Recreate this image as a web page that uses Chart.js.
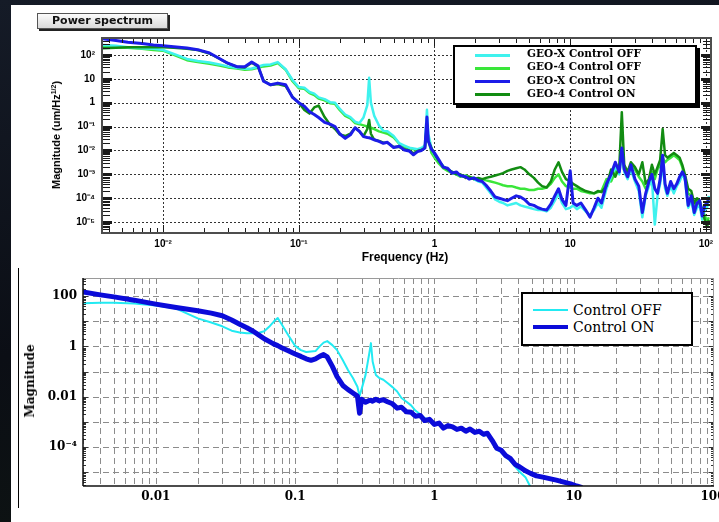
<!DOCTYPE html>
<html>
<head>
<meta charset="utf-8">
<title>Power spectrum</title>
<script src="https://cdn.jsdelivr.net/npm/chart.js@4.4.1/dist/chart.umd.min.js"></script>
<style>
  html, body { margin: 0; padding: 0; }
  body { width: 719px; height: 522px; overflow: hidden; position: relative;
         background: linear-gradient(170deg, #151b27 0%, #0b0e15 55%, #0e1511 100%); }
  #sheet { position: absolute; left: 11px; top: 5px; width: 708px; height: 517px; background: #fff; }
  #rule { position: absolute; left: 18px; top: 268px; width: 1px; height: 240px; background: #000; }
  canvas { position: absolute; left: 0; }
  .tag { position: absolute; left: 37px; top: 13px; width: 129px; height: 14px; border: 1px solid #555;
         background: linear-gradient(#fbfbfb, #d9d9d9); box-shadow: 2px 2px 0 #222;
         font: bold 11px "DejaVu Sans", sans-serif; line-height: 14px; text-align: center; color: #111; }
  .ttl { position: absolute; white-space: nowrap; color: #000; }
  .ttl sup { font-size: 7px; line-height: 0; vertical-align: 4px; }
  .rot { transform: translate(-50%, -50%) rotate(-90deg); }
  .ctr { transform: translate(-50%, -50%); }
  .legend { position: absolute; background: #fff; border: 2px solid #000; box-sizing: border-box; }
  .legend .sw { position: absolute; }
  .legend .txt { position: absolute; white-space: nowrap; color: #000; }
</style>
</head>
<body>
<div id="sheet"></div>
<div id="rule"></div>
<canvas id="topChart" width="719" height="265" style="top:0"></canvas>
<canvas id="botChart" width="719" height="257" style="top:265px"></canvas>
<div class="tag">Power spectrum</div>
<div class="ttl rot" style="left:56px; top:135px; font: bold 11px 'Liberation Sans', Arial, sans-serif;">Magnitude (um/Hz<sup>1/2</sup>)</div>
<div class="ttl ctr" style="left:405px; top:257px; font: bold 12px 'Liberation Sans', Arial, sans-serif;">Frequency (Hz)</div>
<div class="ttl rot" style="left:30px; top:381px; font: bold 12px 'DejaVu Serif', serif;">Magnitude</div>
<div id="topLegend" class="legend" style="left:453px; top:45px; width:244px; height:60px; box-shadow: 3px 3px 0 #000;"></div>
<div id="botLegend" class="legend" style="left:521px; top:292px; width:172px; height:54px;"></div>

<script>
// ── Top panel data: frequency (Hz) and magnitude (um/Hz^1/2) ──
const topFreq = [
  0.0036, 0.0045, 0.0055, 0.007, 0.0085, 0.01, 0.012, 0.015, 0.018, 0.022,
  0.026, 0.03, 0.035, 0.04, 0.045, 0.05, 0.055, 0.062, 0.07, 0.08,
  0.09, 0.1, 0.11, 0.12, 0.13, 0.14, 0.155, 0.17, 0.185, 0.2,
  0.22, 0.24, 0.26, 0.28, 0.3, 0.32, 0.33, 0.34, 0.36, 0.39,
  0.42, 0.45, 0.5, 0.55, 0.6, 0.65, 0.7, 0.75, 0.8, 0.85,
  0.88, 0.9, 0.95, 1.0, 1.08, 1.16, 1.25, 1.35, 1.45, 1.55,
  1.7, 1.8, 1.95, 2.1, 2.25, 2.4, 2.6, 2.8, 3.0, 3.2,
  3.45, 3.7, 4.0, 4.3, 4.6, 5.0, 5.4, 5.8, 6.2, 6.7,
  7.2, 7.7, 8.2, 8.7, 9.3, 10.0, 10.5, 11.2, 12, 13,
  14, 15, 16, 17, 18.5, 20, 21.5, 23, 24, 25,
  26.5, 28, 30, 32, 34, 36, 38, 40, 42, 44,
  46, 48, 50, 52, 55, 58, 61, 64, 67, 70,
  74, 78, 82, 86, 90, 94, 98, 102, 105
];
const geoXOff = [
  260, 240, 210, 190, 180, 160, 110, 68, 56, 48,
  40, 33, 29, 26, 27, 32, 38, 40, 50, 25,
  8.9, 4.5, 4.2, 2.8, 2.4, 1.66, 1.41, 1.05, 1.0, 0.56,
  0.32, 0.25, 0.16, 0.14, 0.24, 0.79, 11, 1.0, 0.28, 0.11,
  0.066, 0.063, 0.04, 0.02, 0.016, 0.013, 0.012, 0.0112, 0.0126, 0.016,
  0.5, 0.05, 0.0126, 6.3e-3, 3.5e-3, 2.2e-3, 1.6e-3, 1.26e-3, 1.0e-3, 8.9e-4,
  7.9e-4, 7.1e-4, 6.3e-4, 5.0e-4, 4.5e-4, 2.8e-4, 1.6e-4, 8.9e-5, 7.1e-5, 6.3e-5,
  5.0e-5, 5.6e-5, 6.3e-5, 5.0e-5, 4.5e-5, 4.0e-5, 3.5e-5, 3.2e-5, 3.2e-5, 2.8e-5,
  4.0e-5, 7.9e-5, 1.6e-4, 6.3e-5, 3.5e-5, 4.0e-5, 5.0e-5, 3.5e-5, 4.5e-5, 2.8e-5,
  2.0e-5, 3.2e-5, 6.3e-5, 4.0e-5, 2.5e-4, 7.9e-4, 2.0e-3, 1.0e-3, 7.9e-3, 1.26e-3,
  6.3e-4, 1.6e-3, 5.0e-4, 2.0e-4, 1.6e-5, 1.26e-4, 3.2e-4, 6.3e-4, 7.9e-6, 1.26e-4,
  4.0e-4, 3.2e-3, 2.5e-4, 1.26e-4, 3.2e-4, 1.6e-4, 3.2e-4, 5.0e-4, 1.0e-3, 6.3e-4,
  4.0e-5, 7.9e-5, 2.0e-5, 4.0e-5, 5.0e-5, 1.26e-5, 3.2e-5, 4.0e-5, 1.26e-4
];
const geo4Off = [
  230, 210, 200, 180, 160, 150, 100, 60, 50, 43,
  36, 30, 27, 24, 25, 29, 33, 36, 46, 24,
  7.9, 4.0, 3.8, 2.5, 2.1, 1.5, 1.26, 0.95, 0.89, 0.5,
  0.28, 0.22, 0.14, 0.126, 0.112, 0.1, 0.095, 0.089, 0.079, 0.063,
  0.056, 0.05, 0.035, 0.019, 0.014, 0.0126, 0.0112, 0.0105, 0.01, 0.014,
  0.1, 0.032, 7.9e-3, 5.0e-3, 2.8e-3, 1.8e-3, 1.4e-3, 1.12e-3, 1.0e-3, 7.9e-4,
  8.9e-4, 7.9e-4, 7.1e-4, 6.3e-4, 6.3e-4, 5.6e-4, 5.0e-4, 4.5e-4, 4.0e-4, 3.5e-4,
  3.2e-4, 3.2e-4, 2.8e-4, 2.5e-4, 2.5e-4, 2.2e-4, 2.2e-4, 2.5e-4, 2.5e-4, 2.8e-4,
  4.0e-4, 7.1e-4, 1.0e-3, 5.0e-4, 3.2e-4, 2.8e-4, 2.5e-4, 2.5e-4, 2.0e-4, 1.8e-4,
  1.6e-4, 1.6e-4, 1.8e-4, 2.0e-4, 6.3e-4, 5.0e-4, 1.26e-3, 2.5e-3, 4.0e-3, 1.6e-3,
  1.26e-3, 2.5e-3, 1.6e-3, 7.9e-4, 5.0e-4, 2.5e-4, 4.0e-4, 1.26e-3, 6.3e-4, 1.6e-3,
  2.5e-3, 5.0e-3, 3.2e-3, 4.0e-3, 5.0e-3, 6.3e-3, 5.0e-3, 4.0e-3, 2.0e-3, 6.3e-4,
  1.6e-4, 1.26e-4, 5.0e-5, 7.9e-5, 5.0e-5, 2.5e-5, 2.0e-5, 1.0e-5, 1.6e-5
];
const geoXOn = [
  470, 400, 340, 300, 260, 240, 220, 195, 166, 120,
  71, 45, 32, 32, 50, 35, 7.9, 5.6, 6.6, 5.6,
  1.66, 1.0, 0.71, 0.42, 0.32, 0.24, 0.15, 0.126, 0.1, 0.05,
  0.032, 0.045, 0.089, 0.063, 0.038, 0.035, 0.034, 0.032, 0.028, 0.024,
  0.02, 0.022, 0.0132, 0.015, 0.0105, 0.0095, 0.0066, 0.0089, 0.01, 0.0126,
  0.25, 0.025, 0.0112, 7.9e-3, 4.0e-3, 2.0e-3, 1.8e-3, 1.12e-3, 1.26e-3, 8.9e-4,
  7.9e-4, 6.3e-4, 7.1e-4, 5.6e-4, 5.0e-4, 3.5e-4, 2.0e-4, 1.12e-4, 1.0e-4, 8.9e-5,
  7.9e-5, 1.0e-4, 1.26e-4, 1.12e-4, 8.9e-5, 5.6e-5, 5.0e-5, 4.0e-5, 3.5e-5, 3.2e-5,
  5.6e-5, 1.26e-4, 2.5e-4, 8.9e-5, 5.0e-5, 1.4e-3, 6.3e-5, 5.0e-5, 6.3e-5, 3.2e-5,
  1.6e-5, 4.0e-5, 1.0e-4, 6.3e-5, 4.0e-4, 1.0e-3, 3.2e-3, 1.26e-3, 1.26e-2, 1.6e-3,
  7.9e-4, 2.5e-3, 6.3e-4, 3.2e-4, 2.5e-5, 1.6e-4, 5.0e-4, 1.0e-3, 2.5e-4, 1.6e-4,
  6.3e-4, 6.3e-3, 4.0e-4, 1.6e-4, 5.0e-4, 2.5e-4, 4.0e-4, 7.9e-4, 1.26e-3, 7.9e-4,
  5.0e-5, 1.26e-4, 2.5e-5, 6.3e-5, 7.9e-5, 1.8e-5, 5.0e-5, 6.3e-5, 1.0e-4
];
const geo4On = [
  190, 200, 210, 210, 210, 210, 200, 180, 160, 115,
  69, 44, 32, 30, 47, 33, 8.5, 5.5, 6.0, 5.0,
  1.74, 1.0, 0.5, 0.35, 0.63, 0.76, 0.25, 0.12, 0.079, 0.047,
  0.04, 0.05, 0.089, 0.063, 0.04, 0.079, 0.19, 0.05, 0.028, 0.025,
  0.021, 0.021, 0.014, 0.014, 0.0112, 0.01, 7.6e-3, 9.5e-3, 0.0105, 0.013,
  0.126, 0.025, 0.0126, 7.1e-3, 3.5e-3, 2.1e-3, 1.6e-3, 1.26e-3, 1.0e-3, 1.0e-3,
  7.1e-4, 7.9e-4, 6.3e-4, 7.1e-4, 6.3e-4, 7.1e-4, 7.9e-4, 8.9e-4, 1.0e-3, 1.12e-3,
  1.4e-3, 1.6e-3, 1.8e-3, 2.0e-3, 1.6e-3, 1.0e-3, 7.1e-4, 4.5e-4, 3.2e-4, 2.8e-4,
  5.0e-4, 1.6e-3, 3.2e-3, 1.26e-3, 6.3e-4, 5.0e-4, 4.0e-4, 3.2e-4, 2.5e-4, 2.0e-4,
  1.8e-4, 1.6e-4, 2.0e-4, 1.8e-4, 3.2e-4, 1.6e-3, 7.9e-4, 2.0e-3, 0.4, 2.5e-3,
  1.26e-3, 3.2e-3, 2.0e-3, 1.0e-3, 3.2e-3, 4.0e-4, 6.3e-4, 2.5e-3, 1.0e-3, 2.0e-3,
  4.0e-3, 0.079, 6.3e-3, 5.0e-3, 6.3e-3, 7.9e-3, 6.3e-3, 5.0e-3, 2.5e-3, 1.0e-3,
  2.5e-4, 2.0e-4, 6.3e-5, 1.0e-4, 7.9e-5, 3.2e-5, 1.26e-5, 6.3e-6, 1.26e-5
];
const topNames = ['GEO-X Control OFF', 'GEO-4 Control OFF', 'GEO-X Control ON', 'GEO-4 Control ON'];
const topXTicks = [0.01, 0.1, 1, 10, 100];
const topXLabels = ['10⁻²', '10⁻¹', '1', '10', '10²'];
const topYTicks = [1e-5, 1e-4, 1e-3, 1e-2, 0.1, 1, 10, 100];
const topYLabels = ['10⁻⁵', '10⁻⁴', '10⁻³', '10⁻²', '10⁻¹', '1', '10', '10²'];

// ── Bottom panel data ──
const botFreq = [
  0.003, 0.004, 0.005, 0.007, 0.01, 0.014, 0.02, 0.025, 0.03, 0.035,
  0.04, 0.045, 0.05, 0.055, 0.06, 0.065, 0.07, 0.075, 0.08, 0.09,
  0.1, 0.11, 0.12, 0.13, 0.14, 0.15, 0.16, 0.17, 0.185, 0.2,
  0.22, 0.24, 0.26, 0.28, 0.29, 0.3, 0.32, 0.34, 0.35, 0.36,
  0.38, 0.4, 0.43, 0.46, 0.5, 0.54, 0.58, 0.63, 0.68, 0.73,
  0.79, 0.85, 0.92, 1.0, 1.08, 1.16, 1.25, 1.35, 1.45, 1.56,
  1.68, 1.8, 1.95, 2.1, 2.25, 2.4, 2.6, 2.8, 3.0, 3.25,
  3.5, 3.8, 4.1, 4.5, 4.9, 5.4, 6.0, 6.7, 7.5, 8.5,
  9.5, 10.5, 11.5
];
const ctrlOff = [
  52, 54, 54, 51, 42, 32, 13, 8.9, 6.3, 4.2,
  3.6, 3.3, 3.3, 3.5, 4.0, 6.0, 9.5, 13.5, 7.6, 2.6,
  1.05, 0.71, 0.6, 0.63, 0.65, 1.0, 1.41, 1.62, 1.12, 0.71,
  0.28, 0.112, 0.055, 0.025, 0.0107, 0.02, 0.072, 0.5, 1.35, 0.25,
  0.072, 0.056, 0.047, 0.035, 0.024, 0.016, 8.9e-3, 6.3e-3, 4.5e-3, 2.8e-3,
  2.0e-3, 1.4e-3, 1.26e-3, 8.9e-4, 7.9e-4, 6.3e-4, 6.6e-4, 5.6e-4, 5.0e-4, 4.8e-4,
  4.4e-4, 5.0e-4, 3.5e-4, 3.8e-4, 2.8e-4, 3.2e-4, 1.6e-4, 7.9e-5, 6.3e-5, 4.0e-5,
  2.8e-5, 1.66e-5, 1.0e-5, 6.3e-6, 2.5e-6, null, null, null, null, null,
  null, null, null
];
const ctrlOn = [
  145, 112, 93, 69, 48, 35, 26, 21, 16.6, 11.2,
  7.6, 5.5, 4.0, 2.8, 2.0, 1.58, 1.26, 1.07, 0.89, 0.66,
  0.5, 0.4, 0.32, 0.28, 0.32, 0.4, 0.47, 0.38, 0.16, 0.063,
  0.028, 0.019, 0.014, 0.0105, 2.2e-3, 7.9e-3, 6.0e-3, 7.1e-3, 7.2e-3, 6.6e-3,
  7.9e-3, 6.9e-3, 7.6e-3, 6.3e-3, 5.2e-3, 3.5e-3, 3.8e-3, 2.5e-3, 2.4e-3, 1.66e-3,
  1.8e-3, 1.12e-3, 1.26e-3, 7.9e-4, 8.9e-4, 5.6e-4, 7.1e-4, 6.3e-4, 5.0e-4, 5.6e-4,
  4.2e-4, 5.2e-4, 3.8e-4, 4.2e-4, 3.2e-4, 3.5e-4, 1.8e-4, 8.9e-5, 7.6e-5, 4.5e-5,
  3.5e-5, 2.0e-5, 1.6e-5, 1.12e-5, 8.9e-6, 7.1e-6, 6.3e-6, 5.5e-6, 4.8e-6, 4.0e-6,
  3.4e-6, 2.8e-6, 2.4e-6
];
const botNames = ['Control OFF', 'Control ON'];
const botXTicks = [0.01, 0.1, 1, 10, 100];
const botXLabels = ['0.01', '0.1', '1', '10', '100'];
const botYTicks = [1e-4, 0.01, 1, 100];
const botYLabels = ['10⁻⁴', '0.01', '1', '100'];

(function() {
  'use strict';

  function $(id) { return document.getElementById(id); }

  // ── Helpers ──
  function points(xs, ys) {
    var out = [];
    xs.forEach(function(x, i) { if (ys[i] != null) out.push({ x: x, y: ys[i] }); });
    return out;
  }

  function labelFor(ticks, labels) {
    return function(v) {
      var i = ticks.findIndex(function(t) { return Math.abs(t - v) / t < 1e-6; });
      return i < 0 ? '' : labels[i];
    };
  }

  // 1..9 x 10^k inside the axis range (decades only when all is false)
  function logSteps(min, max, all) {
    var out = [];
    for (var k = Math.floor(Math.log10(min)); k <= Math.ceil(Math.log10(max)); k++) {
      for (var m = 1; m <= 9; m++) {
        if (!all && m > 1) break;
        var v = m * Math.pow(10, k);
        if (v >= min * 0.9999 && v <= max * 1.0001) out.push({ v: v, major: m === 1 });
      }
    }
    return out;
  }

  function hline(ctx, x0, x1, y) { ctx.beginPath(); ctx.moveTo(x0, y); ctx.lineTo(x1, y); ctx.stroke(); }
  function vline(ctx, x, y0, y1) { ctx.beginPath(); ctx.moveTo(x, y0); ctx.lineTo(x, y1); ctx.stroke(); }
  function px(scale, v) { return Math.round(scale.getPixelForValue(v)) + 0.5; }

  function trace(ds) {
    ds.showLine = true; ds.fill = false; ds.pointRadius = 0; ds.tension = 0;
    ds.borderJoinStyle = 'round';
    return ds;
  }

  function panelOptions(o) {
    return {
      responsive: false, animation: false, devicePixelRatio: 1,
      layout: { padding: { left: 0, top: o.top, right: o.right, bottom: 0 } },
      plugins: { legend: { display: false }, tooltip: { enabled: false } },
      scales: {
        x: {
          type: 'logarithmic', min: o.xMin, max: o.xMax,
          grid: { display: false, drawTicks: false }, border: { display: false },
          afterBuildTicks: function(s) { s.ticks = o.xTicks.map(function(v) { return { value: v }; }); },
          afterFit: function(s) { s.height = o.xHeight; s.paddingLeft = 0; s.paddingRight = 0; },
          ticks: { callback: labelFor(o.xTicks, o.xLabels), font: o.font, color: '#000',
                   padding: o.xPad, maxRotation: 0, minRotation: 0, autoSkip: false }
        },
        y: {
          type: 'logarithmic', min: o.yMin, max: o.yMax,
          grid: { display: false, drawTicks: false }, border: { display: false },
          afterBuildTicks: function(s) { s.ticks = o.yTicks.map(function(v) { return { value: v }; }); },
          afterFit: function(s) { s.width = o.yWidth; s.paddingTop = 0; s.paddingBottom = 0; },
          ticks: { callback: labelFor(o.yTicks, o.yLabels), font: o.font, color: '#000',
                   padding: o.yPad, autoSkip: false }
        }
      }
    };
  }

  // ── Top panel decorations: dotted decade grid, inward ticks, frame ──
  var topDecor = {
    id: 'topDecor',
    beforeDatasetsDraw: function(chart) {
      var ctx = chart.ctx, a = chart.chartArea, sx = chart.scales.x, sy = chart.scales.y;
      ctx.save();
      ctx.strokeStyle = '#333'; ctx.lineWidth = 1; ctx.setLineDash([2, 2]);
      logSteps(sx.min, sx.max, false).forEach(function(t) { vline(ctx, px(sx, t.v), a.top, a.bottom); });
      logSteps(sy.min, sy.max, false).forEach(function(t) { hline(ctx, a.left, a.right, px(sy, t.v)); });
      ctx.restore();
    },
    afterDatasetsDraw: function(chart) {
      var ctx = chart.ctx, a = chart.chartArea, sx = chart.scales.x, sy = chart.scales.y;
      ctx.save();
      ctx.strokeStyle = '#1a1a1a'; ctx.lineWidth = 1;
      logSteps(sx.min, sx.max, true).forEach(function(t) {
        var x = px(sx, t.v), len = t.major ? 8 : 5;
        vline(ctx, x, a.bottom, a.bottom - len);
        vline(ctx, x, a.top, a.top + len);
      });
      logSteps(sy.min, sy.max, true).forEach(function(t) {
        var y = px(sy, t.v);
        ctx.lineWidth = t.major ? 3 : 1;
        hline(ctx, a.left, a.left + (t.major ? 10 : 8), y);
        hline(ctx, a.right - (t.major ? 10 : 8), a.right, y);
      });
      ctx.lineWidth = 2; ctx.strokeStyle = '#4d4d4d';
      ctx.strokeRect(a.left, a.top, a.right - a.left, a.bottom - a.top);
      ctx.restore();
    }
  };

  // ── Bottom panel decorations: dashed grid, small ticks, frame ──
  var botDecor = {
    id: 'botDecor',
    beforeDatasetsDraw: function(chart) {
      var ctx = chart.ctx, a = chart.chartArea, sx = chart.scales.x, sy = chart.scales.y;
      ctx.save();
      ctx.strokeStyle = '#8c8c8c'; ctx.lineWidth = 1; ctx.setLineDash([6, 4]);
      logSteps(sx.min, sx.max, true).forEach(function(t) { vline(ctx, px(sx, t.v), a.top, a.bottom); });
      logSteps(sy.min, sy.max, false).forEach(function(t) { hline(ctx, a.left, a.right, px(sy, t.v)); });
      ctx.restore();
    },
    afterDatasetsDraw: function(chart) {
      var ctx = chart.ctx, a = chart.chartArea, sy = chart.scales.y;
      ctx.save();
      ctx.strokeStyle = '#333'; ctx.lineWidth = 1;
      logSteps(sy.min, sy.max, true).forEach(function(t) {
        var y = px(sy, t.v), len = t.major ? 5 : 3;
        hline(ctx, a.left, a.left + len, y);
        hline(ctx, a.right - len, a.right, y);
      });
      ctx.strokeStyle = '#9a9a9a';
      hline(ctx, a.left, a.right, a.top + 0.5);
      vline(ctx, a.right - 0.5, a.top, a.bottom);
      ctx.strokeStyle = '#111'; ctx.lineWidth = 1.5;
      hline(ctx, a.left, a.right, a.bottom);
      vline(ctx, a.left, a.top, a.bottom);
      ctx.restore();
    }
  };

  // ── Charts ──
  var topStyle = {
    xoff: { color: '#3ff2ee', width: 2.5 },
    g4off: { color: '#3ae63a', width: 2.5 },
    xon: { color: '#1c1ce8', width: 3 },
    g4on: { color: '#128c12', width: 2.5 }
  };

  new Chart($('topChart'), {
    type: 'scatter',
    data: { datasets: [
      { label: topNames[2], data: points(topFreq, geoXOn), borderColor: topStyle.xon.color, borderWidth: topStyle.xon.width },
      { label: topNames[3], data: points(topFreq, geo4On), borderColor: topStyle.g4on.color, borderWidth: topStyle.g4on.width },
      { label: topNames[0], data: points(topFreq, geoXOff), borderColor: topStyle.xoff.color, borderWidth: topStyle.xoff.width },
      { label: topNames[1], data: points(topFreq, geo4Off), borderColor: topStyle.g4off.color, borderWidth: topStyle.g4off.width }
    ].map(trace) },
    options: panelOptions({
      top: 38, right: 8, xHeight: 32, yWidth: 102, xPad: 5, yPad: 7,
      xMin: 0.00355, xMax: 109, yMin: 3.5e-6, yMax: 510,
      xTicks: topXTicks, xLabels: topXLabels, yTicks: topYTicks, yLabels: topYLabels,
      font: { family: '"Liberation Sans", Arial, sans-serif', size: 10, weight: 'bold' }
    }),
    plugins: [topDecor]
  });

  var botStyle = {
    off: { color: '#22eaf2', width: 2 },
    on: { color: '#0b0bd9', width: 5 }
  };

  new Chart($('botChart'), {
    type: 'scatter',
    data: { datasets: [
      { label: botNames[1], data: points(botFreq, ctrlOn), borderColor: botStyle.on.color, borderWidth: botStyle.on.width },
      { label: botNames[0], data: points(botFreq, ctrlOff), borderColor: botStyle.off.color, borderWidth: botStyle.off.width }
    ].map(trace) },
    options: panelOptions({
      top: 13, right: 5, xHeight: 36, yWidth: 83, xPad: 4, yPad: 6,
      xMin: 0.003, xMax: 101.6, yMin: 2.8e-6, yMax: 525,
      xTicks: botXTicks, xLabels: botXLabels, yTicks: botYTicks, yLabels: botYLabels,
      font: { family: '"DejaVu Serif", serif', size: 12, weight: 'bold' }
    }),
    plugins: [botDecor]
  });

  // ── Legends ──
  function legend(box, names, styles, o) {
    names.forEach(function(name, i) {
      var cy = o.first + i * o.step, st = styles[i];
      var sw = document.createElement('div');
      sw.className = 'sw';
      sw.style.cssText = 'left:' + o.swLeft + 'px; width:' + o.swWidth + 'px; top:' + (cy - st.width / 2) +
        'px; height:' + st.width + 'px; background:' + st.color + ';';
      var tx = document.createElement('div');
      tx.className = 'txt';
      tx.textContent = name;
      tx.style.cssText = 'left:' + o.txLeft + 'px; top:' + (cy - 8) + 'px; line-height:16px; font:' + o.font + ';';
      box.appendChild(sw);
      box.appendChild(tx);
    });
  }

  legend($('topLegend'), topNames,
    [{ color: topStyle.xoff.color, width: 3 }, { color: topStyle.g4off.color, width: 3 },
     { color: topStyle.xon.color, width: 3 }, { color: topStyle.g4on.color, width: 3 }],
    { first: 8, step: 13.3, swLeft: 20, swWidth: 35, txLeft: 72, font: 'bold 10.5px "DejaVu Serif", serif' });

  legend($('botLegend'), botNames,
    [{ color: botStyle.off.color, width: 2 }, { color: botStyle.on.color, width: 4 }],
    { first: 16, step: 17, swLeft: 10, swWidth: 35, txLeft: 50, font: '14px "DejaVu Serif", serif' });
})();
</script>
</body>
</html>
